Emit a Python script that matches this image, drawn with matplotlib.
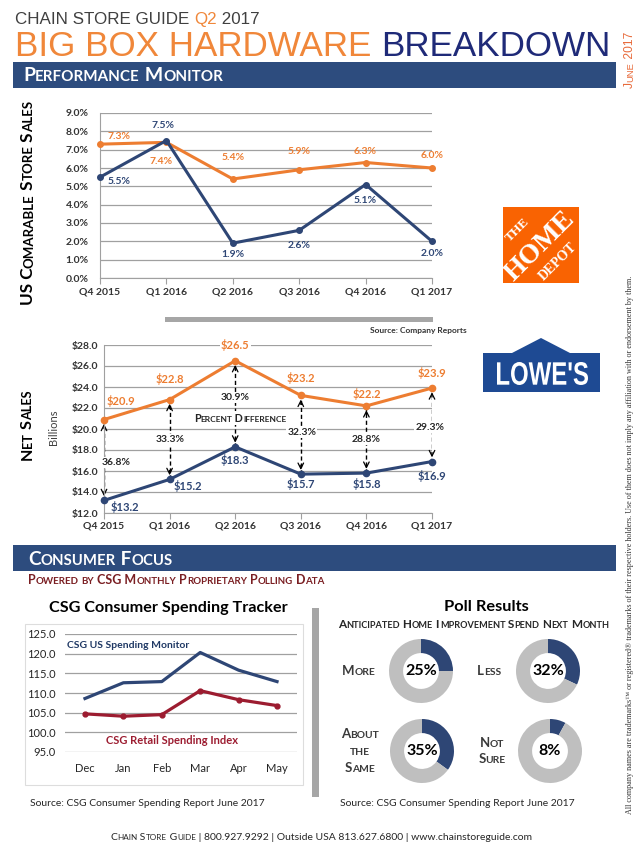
import numpy as np
import matplotlib.pyplot as plt
from matplotlib import font_manager
from matplotlib.patches import Rectangle, Polygon, PathPatch
from matplotlib.textpath import TextPath
from matplotlib.font_manager import FontProperties
from matplotlib.transforms import Affine2D

W, H = 641, 859

quarters = ['Q4 2015', 'Q1 2016', 'Q2 2016', 'Q3 2016', 'Q4 2016', 'Q1 2017']
hd_comp = [7.3, 7.4, 5.4, 5.9, 6.3, 6.0]
lowes_comp = [5.5, 7.5, 1.9, 2.6, 5.1, 2.0]
hd_sales = [20.9, 22.8, 26.5, 23.2, 22.2, 23.9]
lowes_sales = [13.2, 15.2, 18.3, 15.7, 15.8, 16.9]
pct_diff = ['36.8%', '33.3%', '30.9%', '32.3%', '28.8%', '29.3%']

months = ['Dec', 'Jan', 'Feb', 'Mar', 'Apr', 'May']
us_monitor = [108.6, 112.6, 112.9, 120.3, 115.8, 112.9]
retail_index = [104.7, 104.1, 104.5, 110.6, 108.3, 106.8]

poll_labels = ['More', 'Less', 'About\nthe\nSame', 'Not\nSure']
poll_values = [25, 32, 35, 8]

ORANGE = '#ED7D31'
TITLE_OR = '#F0873A'
NAVY = '#2E4675'
BANNER = '#2D4C7E'
RED = '#9C1C30'
GRID = '#A0A0A0'
DARK = '#333333'

FONT = ['Lato', 'DejaVu Sans']
SERIF = ['Liberation Serif', 'DejaVu Serif']

fig = plt.figure(figsize=(W / 100, H / 100), dpi=100)
bg = fig.add_axes([0, 0, 1, 1])
bg.set_xlim(0, W)
bg.set_ylim(H, 0)
bg.axis('off')
T = bg.transData
R = fig.canvas.get_renderer()


def box(l, t, r, b):
    return [l / W, 1 - b / H, (r - l) / W, (b - t) / H]


def text_w(s, size, weight, family):
    t = fig.text(0, 0, s, fontsize=size, fontweight=weight, family=family)
    w = t.get_window_extent(R).width
    t.remove()
    return w


def adv(s, size, weight, family):
    return text_w(s + 'I', size, weight, family) - text_w('I', size, weight, family)


def rich(x, y, parts, size, weight='bold', family=FONT, ha='left', rot=0, fit=None, ratio=0.78):
    # small caps: lower case letters in a "sc" part are drawn as smaller capitals
    toks = []
    for s, sc, col in parts:
        for ch in s:
            kind = 'lo' if (sc and ch.islower()) else 'up'
            if toks and toks[-1][1] == kind and toks[-1][2] == col:
                toks[-1][0] += ch
            else:
                toks.append([ch, kind, col])
    for tk in toks:
        if tk[1] == 'lo':
            tk[0] = tk[0].upper()

    def measure(sz):
        return [adv(t, sz * ratio if k == 'lo' else sz, weight, family) for t, k, c in toks]

    ws = measure(size)
    if fit:
        size = size * fit / sum(ws)
        ws = measure(size)
    total = sum(ws)
    if ha == 'center':
        off = -total / 2
    elif ha == 'right':
        off = -total
    else:
        off = 0
    cum = off
    for (t, k, c), w in zip(toks, ws):
        fs = size * ratio if k == 'lo' else size
        if rot == 0:
            px, py = x + cum, y
        else:
            px, py = x, y - cum
        fig.text(px, py, t, fontsize=fs, fontweight=weight, family=family, color=c,
                 transform=T, ha='left', va='baseline', rotation=rot, rotation_mode='anchor')
        cum += w
    return off, total, size


# ---------------- header ----------------
rich(15, 24, [('CHAIN STORE GUIDE ', False, '#404040'), ('Q2', False, TITLE_OR), (' 2017', False, '#404040')],
     12, weight='normal', family=['Liberation Sans'], fit=245)
rich(15, 56, [('BIG BOX HARDWARE ', False, TITLE_OR), ('BREAKDOWN', False, '#1F2A78')],
     25, weight='normal', family=['Liberation Sans'], fit=597)
rich(633, 60, [('June 2017', True, '#E86A3A')], 8, weight='normal', family=['Liberation Sans'],
     ha='center', rot=90, fit=56)

bg.add_patch(Rectangle((13, 62), 603, 26, color=BANNER, lw=0))
rich(23, 81, [('Performance Monitor', True, 'white')], 13, fit=199)

# ---------------- chart 1: comparable store sales ----------------
x = np.arange(len(quarters))
ax1 = fig.add_axes(box(100, 113, 432, 278))
ax1.set_facecolor('none')
ax1.plot(x, hd_comp, color=ORANGE, lw=2.2, marker='o', ms=4, clip_on=False, zorder=3)
ax1.plot(x, lowes_comp, color=NAVY, lw=2.2, marker='o', ms=4, clip_on=False, zorder=3)
ax1.set_xlim(0, 5)
ax1.set_ylim(0, 9)
ax1.set_yticks(np.arange(0, 10, 1))
ax1.set_yticklabels([f'{v:.1f}%' for v in np.arange(0, 10, 1)])
ax1.set_xticks(x)
ax1.set_xticklabels(quarters)
ax1.yaxis.grid(True, color=GRID, lw=0.9)
ax1.set_axisbelow(True)
for s in ['top', 'right']:
    ax1.spines[s].set_visible(False)
for s in ['left', 'bottom']:
    ax1.spines[s].set_color(GRID)
ax1.tick_params(axis='y', length=0, pad=8, labelsize=7.5, labelcolor=DARK)
ax1.tick_params(axis='x', length=4, color=GRID, pad=3, labelsize=7.5, labelcolor=DARK)
for lab in ax1.get_xticklabels() + ax1.get_yticklabels():
    lab.set_family(FONT)
    lab.set_fontweight('bold')

hd_off = [(19, -8), (-5, 19), (0, -22), (0, -18), (0, -11), (0, -13)]
lw_off = [(19, 4), (-3, -15), (0, 11), (0, 15), (0, 16), (0, 12)]
for i in range(len(quarters)):
    ax1.annotate(f'{hd_comp[i]:.1f}%', (i, hd_comp[i]), xytext=(hd_off[i][0], -hd_off[i][1]),
                 textcoords='offset pixels', ha='center', va='center', fontsize=7.5,
                 fontweight='bold', color=ORANGE, family=FONT)
    ax1.annotate(f'{lowes_comp[i]:.1f}%', (i, lowes_comp[i]), xytext=(lw_off[i][0], -lw_off[i][1]),
                 textcoords='offset pixels', ha='center', va='center', fontsize=7.5,
                 fontweight='bold', color=NAVY, family=FONT)

rich(33, 203, [('US Comarable Store Sales', True, 'black')], 14, ha='center', rot=90, fit=205)

bg.add_patch(Rectangle((165, 317), 268, 5, color='#A6A6A6', lw=0))
fig.text(418, 331, 'Source: Company Reports', transform=T, fontsize=6, fontweight='bold',
         family=FONT, color=DARK, ha='center', va='center')

# ---------------- logos ----------------
bg.add_patch(Rectangle((503, 207), 76, 76, color='#F96302', lw=0))
fig.text(518, 230, 'THE', transform=T, rotation=45, rotation_mode='anchor', ha='center', va='center',
         color='white', fontsize=9.5, fontweight='bold', family=SERIF)
fig.text(540, 246, 'HOME', transform=T, rotation=45, rotation_mode='anchor', ha='center', va='center',
         color='white', fontsize=20, fontweight='bold', family=SERIF)
fig.text(558, 262, 'DEPOT', transform=T, rotation=45, rotation_mode='anchor', ha='center', va='center',
         color='white', fontsize=10, fontweight='bold', family=SERIF)

bg.add_patch(Polygon([(483, 353), (512, 353), (541, 338), (570, 353), (600, 353), (600, 392), (483, 392)],
                     closed=True, color='#1E4A93', lw=0))
tp = TextPath((0, 0), "LOWE'S", size=10, prop=FontProperties(family='Liberation Sans', weight='bold'))
ext = tp.get_extents()
sx = 91 / ext.width
sy = 23 / ext.height
logo_tf = Affine2D().translate(-ext.x0, -ext.y0).scale(sx, -sy).translate(497, 385)
bg.add_patch(PathPatch(logo_tf.transform_path(tp), color='white', lw=0))

# ---------------- chart 2: net sales ----------------
ax2 = fig.add_axes(box(104, 345, 432, 513))
ax2.set_facecolor('none')
ax2.plot(x, hd_sales, color=ORANGE, lw=2.2, marker='o', ms=4.5, clip_on=False, zorder=3)
ax2.plot(x, lowes_sales, color=NAVY, lw=2.2, marker='o', ms=4.5, clip_on=False, zorder=3)
ax2.set_xlim(0, 5)
ax2.set_ylim(12, 28)
yt = np.arange(12, 29, 2)
ax2.set_yticks(yt)
ax2.set_yticklabels([f'${v:.1f}' for v in yt])
ax2.set_xticks(x)
ax2.set_xticklabels(quarters)
ax2.yaxis.grid(True, color=GRID, lw=0.9)
ax2.set_axisbelow(True)
for s in ['top', 'right']:
    ax2.spines[s].set_visible(False)
for s in ['left', 'bottom']:
    ax2.spines[s].set_color(GRID)
ax2.tick_params(axis='y', length=0, pad=4, labelsize=7.5, labelcolor=DARK)
ax2.tick_params(axis='x', length=4, color=GRID, pad=2, labelsize=7.5, labelcolor=DARK)
for lab in ax2.get_xticklabels() + ax2.get_yticklabels():
    lab.set_family(FONT)
    lab.set_fontweight('bold')

ax2.vlines(x, lowes_sales, hd_sales, colors='black', linestyles=(0, (3, 2)), lw=1, zorder=2)
for i in range(len(quarters)):
    ax2.annotate('', xy=(i, hd_sales[i]), xytext=(0, -9), textcoords='offset pixels',
                 arrowprops=dict(arrowstyle='->', lw=0.9, color='black', shrinkA=0, shrinkB=3), zorder=2)
    ax2.annotate('', xy=(i, lowes_sales[i]), xytext=(0, 9), textcoords='offset pixels',
                 arrowprops=dict(arrowstyle='->', lw=0.9, color='black', shrinkA=0, shrinkB=3), zorder=2)

hs_off = [(17, -19), (0, -21), (0, -16), (0, -17), (0, -12), (0, -15)]
ls_off = [(21, 7), (18, 7), (0, 13), (0, 10), (0, 11), (0, 14)]
pd_off = [(12, -38), (1, -40), (0, -49), (1, -42), (0, -34), (-2, -34)]
for i in range(len(quarters)):
    ax2.annotate(f'${hd_sales[i]:.1f}', (i, hd_sales[i]), xytext=(hs_off[i][0], -hs_off[i][1]),
                 textcoords='offset pixels', ha='center', va='center', fontsize=8,
                 fontweight='bold', color=ORANGE, family=FONT,
                 bbox=dict(fc='white', ec='none', pad=1) if i == 2 else None)
    ax2.annotate(f'${lowes_sales[i]:.1f}', (i, lowes_sales[i]), xytext=(ls_off[i][0], -ls_off[i][1]),
                 textcoords='offset pixels', ha='center', va='center', fontsize=8,
                 fontweight='bold', color=NAVY, family=FONT)
    ax2.annotate(pct_diff[i], (i, lowes_sales[i]), xytext=(pd_off[i][0], -pd_off[i][1]),
                 textcoords='offset pixels', ha='center', va='center', fontsize=7.5,
                 fontweight='bold', color='#262626', family=FONT, zorder=4,
                 bbox=dict(fc='white', ec='none', pad=0.8))

off, tot, _ = rich(240, 422, [('Percent Difference', True, '#262626')], 8.5, ha='center', fit=93)
fig.add_artist(Rectangle((240 + off - 3, 411), tot + 6, 14, color='white', lw=0, transform=T, zorder=2))

rich(32, 425, [('Net Sales', True, 'black')], 14, ha='center', rot=90, fit=70)
fig.text(54, 427, 'Billions', transform=T, rotation=90, fontsize=8, family=FONT, color='#404040',
         ha='center', va='center')

# ---------------- consumer focus ----------------
bg.add_patch(Rectangle((13, 545), 603, 26, color=BANNER, lw=0))
rich(28, 565, [('Consumer Focus', True, 'white')], 13, fit=144)
rich(28, 584, [('Powered by CSG Monthly Proprietary Polling Data', True, '#7A1E22')], 9, fit=297)

rich(168, 612, [('CSG Consumer Spending Tracker', False, 'black')], 12, ha='center', fit=237)
bg.add_patch(Rectangle((25, 624), 278, 161, fc='white', ec='#DDDDDD', lw=0.8))
bg.add_patch(Rectangle((312, 608), 7, 189, color='#A6A6A6', lw=0))

ax3 = fig.add_axes(box(65, 634, 297, 752))
ax3.set_facecolor('none')
xm = np.arange(len(months))
ax3.plot(xm, us_monitor, color=NAVY, lw=2.3, zorder=3)
ax3.plot(xm, retail_index, color=RED, lw=2.3, marker='o', ms=3.5, zorder=3)
ax3.set_xlim(-0.52, 5.52)
ax3.set_ylim(95, 125)
yt3 = np.arange(95, 126, 5)
ax3.set_yticks(yt3)
ax3.set_yticklabels([f'{v:.1f}' for v in yt3])
ax3.set_xticks(xm)
ax3.set_xticklabels(months)
ax3.yaxis.grid(True, color=GRID, lw=0.9)
ax3.set_axisbelow(True)
for s in ax3.spines.values():
    s.set_visible(False)
ax3.tick_params(axis='both', length=0, labelsize=8, labelcolor='#262626')
ax3.tick_params(axis='y', pad=7)
ax3.tick_params(axis='x', pad=8)
for lab in ax3.get_xticklabels() + ax3.get_yticklabels():
    lab.set_family(FONT)
fig.text(67, 645, 'CSG US Spending Monitor', transform=T, fontsize=7.5, fontweight='bold',
         family=FONT, color='#1F3864', ha='left', va='center')
fig.text(172, 740, 'CSG Retail Spending Index', transform=T, fontsize=8, fontweight='bold',
         family=FONT, color=RED, ha='center', va='center')
fig.text(30, 803, 'Source: CSG Consumer Spending Report June 2017', transform=T, fontsize=7.5,
         family=FONT, color='#262626', ha='left', va='center')

# ---------------- poll results ----------------
rich(486, 611, [('Poll Results', False, 'black')], 12, ha='center', fit=84)
rich(474, 628, [('Anticipated Home Improvement Spend Next Month', True, '#262626')], 8.5, ha='center', fit=272)

centers = [(421, 671), (548, 671), (422, 751), (550, 751)]
label_x = [359, 489, 360, 492]
for (cx, cy), lab, v, lx in zip(centers, poll_labels, poll_values, label_x):
    axp = fig.add_axes(box(cx - 40, cy - 40, cx + 40, cy + 40))
    axp.pie([v, 100 - v], startangle=90, counterclock=False, colors=[NAVY, '#BFBFBF'],
            wedgeprops=dict(width=0.44, lw=0))
    axp.set_aspect('equal')
    fig.text(cx, cy, f'{v}%', transform=T, fontsize=11.5, fontweight='bold', family=FONT,
             color='black', ha='center', va='center')
    lines = lab.split('\n')
    n = len(lines)
    for k, ln in enumerate(lines):
        yy = cy + (k - (n - 1) / 2) * 16.5 + 4
        rich(lx, yy, [(ln, True, '#3A3A3A')], 9.5, ha='center')

fig.text(340, 803, 'Source: CSG Consumer Spending Report June 2017', transform=T, fontsize=7.5,
         family=FONT, color='#262626', ha='left', va='center')

# ---------------- footer and side note ----------------
rich(321, 840, [('Chain Store Guide', True, '#262626'),
                (' | 800.927.9292 | Outside USA 813.627.6800 | www.chainstoreguide.com', False, '#262626')],
     7.5, weight='normal', ha='center', fit=420)
rich(632, 545, [('All company names are trademarks\u2122 or registered\u00ae trademarks of their respective '
                 'holders. Use of them does not imply any affiliation with or endorsement by them.', False, '#333333')],
     6, weight='normal', family=SERIF, ha='center', rot=90, fit=550)

fig.savefig('out.png', dpi=100)
